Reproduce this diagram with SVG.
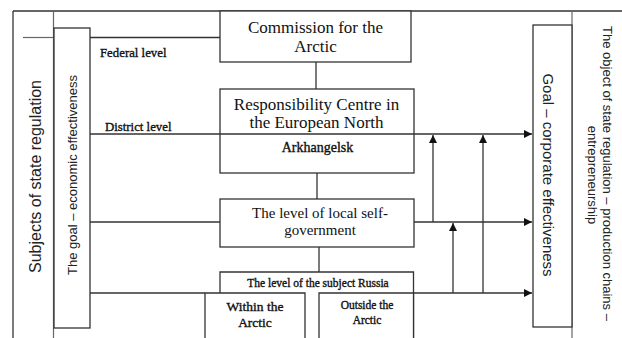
<svg xmlns="http://www.w3.org/2000/svg" width="622" height="338" viewBox="0 0 622 338">
<style>
.bx{fill:#fff;stroke:#333;stroke-width:1.3}
.ln{fill:none;stroke:#333;stroke-width:1.3}
.lg{fill:none;stroke:#666;stroke-width:1.2}
.sf{font-family:"Liberation Serif","Times New Roman",serif;fill:#111}
.sm{stroke:#111;stroke-width:0.35}
.ss{font-family:"Liberation Sans",Arial,sans-serif;fill:#222}
.c{text-anchor:middle}
</style>
<defs>
<marker id="ah" viewBox="0 0 10 10" refX="10" refY="5" markerWidth="9" markerHeight="8" markerUnits="userSpaceOnUse" orient="auto">
<path d="M0,0 L10,5 L0,10 Z" fill="#111"/>
</marker>
</defs>
<rect width="622" height="338" fill="#fff"/>
<g id="frame">
<line class="ln" x1="13" y1="11" x2="622" y2="11"/>
<line class="ln" x1="13" y1="11" x2="13" y2="338"/>
<line class="lg" x1="53.5" y1="11" x2="53.5" y2="338"/>
<line class="lg" x1="23" y1="37.5" x2="53.5" y2="37.5"/>
<line class="lg" x1="572" y1="11" x2="572" y2="338"/>
</g>
<g id="subjects">
<text class="ss c" font-size="16" transform="translate(40.5,176.5) rotate(-90)">Subjects of state regulation</text>
</g>
<g id="goal-economic">
<rect class="bx" x="54" y="28" width="36" height="300"/>
<text class="ss c" font-size="13" transform="translate(76.5,175) rotate(-90)">The goal – economic effectiveness</text>
</g>
<g id="object">
<text class="ss c" font-size="13" transform="translate(603,173.5) rotate(90)">The object of state regulation – production chains –</text>
<text class="ss c" font-size="13" transform="translate(588,175) rotate(90)">entrepreneurship</text>
</g>
<g id="goal-corporate">
<rect class="bx" x="533" y="25" width="39" height="302"/>
<text class="ss c" font-size="15" transform="translate(543,175) rotate(90)">Goal – corporate effectiveness</text>
</g>
<g id="connectors">
<line class="ln" x1="90" y1="37.5" x2="220" y2="37.5"/>
<line class="ln" x1="316" y1="62" x2="316" y2="89"/>
<line class="ln" x1="317" y1="173" x2="317" y2="199"/>
<line class="ln" x1="319" y1="247" x2="319" y2="272"/>
<line class="ln" x1="90" y1="134" x2="532" y2="134" marker-end="url(#ah)"/>
<line class="ln" x1="90" y1="222" x2="220" y2="222"/>
<line class="ln" x1="414" y1="222" x2="532" y2="222" marker-end="url(#ah)"/>
<line class="ln" x1="90" y1="293" x2="205" y2="293"/>
<line class="ln" x1="414" y1="293" x2="532" y2="293" marker-end="url(#ah)"/>
<line class="ln" x1="433" y1="222" x2="433" y2="135" marker-end="url(#ah)"/>
<line class="ln" x1="483" y1="293" x2="483" y2="135" marker-end="url(#ah)"/>
<line class="ln" x1="453" y1="293" x2="453" y2="223" marker-end="url(#ah)"/>
</g>
<g id="labels">
<text class="sf sm" font-size="12.8" x="100" y="57">Federal level</text>
<text class="sf sm" font-size="12.8" x="105" y="131">District level</text>
</g>
<g id="commission">
<rect class="bx" x="220" y="11" width="191" height="51"/>
<text class="sf c" font-size="17" x="315.5" y="33">Commission for the</text>
<text class="sf c" font-size="17" x="315.5" y="52">Arctic</text>
</g>
<g id="responsibility">
<rect class="bx" x="220" y="89" width="194" height="84"/>
<line class="ln" x1="220" y1="134" x2="414" y2="134"/>
<text class="sf c" font-size="17" x="316.5" y="110">Responsibility Centre in</text>
<text class="sf c" font-size="17" x="316.5" y="128">the European North</text>
<text class="sf c sm" font-size="14" x="317.5" y="152">Arkhangelsk</text>
</g>
<g id="local">
<rect class="bx" x="220" y="199" width="194" height="48"/>
<text class="sf c" font-size="15" x="320" y="218">The level of local self-</text>
<text class="sf c" font-size="15" x="320" y="235">government</text>
</g>
<g id="subject-russia">
<path class="ln" d="M220,293 V272 H413.5 V338"/>
<text class="sf c sm" font-size="11.5" x="318" y="287">The level of the subject Russia</text>
</g>
<g id="within">
<path class="bx" d="M205,340 V293 H305 V340"/>
<text class="sf c sm" font-size="13.5" x="255" y="311">Within the</text>
<text class="sf c sm" font-size="13.5" x="255" y="327">Arctic</text>
</g>
<g id="outside">
<path class="bx" d="M319,340 V293 H413.5 V340"/>
<text class="sf c sm" font-size="11.5" x="367" y="309">Outside the</text>
<text class="sf c sm" font-size="11.5" x="367" y="324">Arctic</text>
</g>
</svg>
